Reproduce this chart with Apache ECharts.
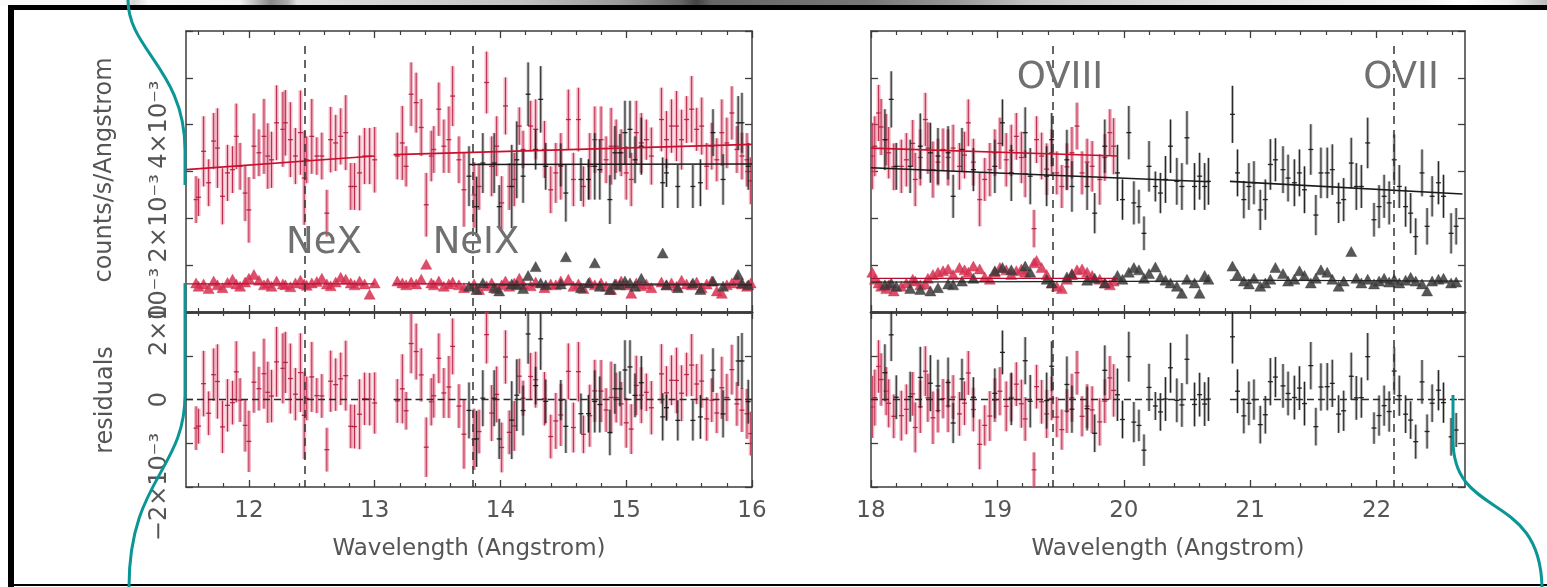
<!DOCTYPE html>
<html><head><meta charset="utf-8">
<script src="https://cdn.jsdelivr.net/npm/echarts@6/dist/echarts.min.js"></script>
<style>html,body{margin:0;padding:0;background:#fff;}#c{width:1547px;height:587px;}</style>
</head><body><div id="c"></div>
<script>
// ---------------- DATA (count rates in units of 1e-3 counts/s/Angstrom) ----------------
const leftRedX = [11.58,11.60,11.64,11.68,11.72,11.75,11.79,11.83,11.87,11.90,
11.93,11.97,12.00,12.04,12.08,12.12,12.15,12.18,12.22,12.27,
12.29,12.33,12.37,12.41,12.44,12.46,12.50,12.54,12.58,12.62,
12.65,12.69,12.73,12.77,12.81,12.84,12.88,12.92,12.96,13.00,
13.18,13.22,13.25,13.29,13.33,13.37,13.41,13.45,13.47,13.51,
13.55,13.59,13.62,13.67,13.71,13.79,13.83,13.89,13.93,13.97,
14.01,14.04,14.07,14.11,14.15,14.18,14.24,14.28,14.35,14.40,
14.44,14.48,14.54,14.58,14.62,14.66,14.71,14.75,14.80,14.84,
14.88,14.92,14.96,15.00,15.04,15.08,15.12,15.16,15.20,15.28,
15.32,15.36,15.40,15.44,15.48,15.52,15.56,15.60,15.64,15.68,
15.72,15.76,15.80,15.84,15.88,15.92,15.96,15.99];
const leftRedY = [2.40,2.45,3.43,2.76,3.65,3.50,2.47,2.97,3.04,3.75,
3.11,2.54,2.18,3.54,3.40,3.75,3.33,3.25,4.04,3.90,
4.04,3.68,3.33,3.83,2.86,3.25,3.75,3.33,3.33,2.11,
3.68,3.61,3.75,3.83,2.68,2.68,2.97,3.33,3.33,3.25,
3.33,3.61,3.11,4.65,4.47,3.94,2.29,3.33,3.47,4.33,
3.54,3.68,4.61,3.25,2.61,2.50,2.68,4.90,3.11,3.54,
2.33,4.40,2.68,2.83,3.97,3.47,3.97,3.90,3.47,2.61,
2.97,3.11,4.11,2.83,4.11,2.68,3.11,3.68,3.68,3.25,
3.54,3.54,3.40,2.97,2.83,3.83,3.61,3.68,3.33,4.11,
3.68,3.97,3.97,3.68,4.11,4.33,3.90,3.97,3.11,3.54,
3.25,3.83,3.61,4.25,3.47,3.33,3.25,2.80];
const leftRedErr = [0.50,0.40,0.75,0.50,0.60,0.85,0.60,0.60,0.50,0.70,
0.50,0.60,0.70,0.70,0.50,0.80,0.70,0.60,0.80,0.80,
0.70,0.80,0.60,0.90,1.00,0.50,0.80,0.40,0.50,0.50,
0.70,0.60,0.60,0.80,0.50,0.50,0.80,0.60,0.60,0.70,
0.50,0.79,0.43,0.68,0.64,0.61,0.68,0.54,0.50,0.57,
0.57,0.71,0.64,0.50,0.79,0.70,0.50,0.66,0.64,0.64,
0.57,0.61,0.50,0.57,0.40,0.40,0.54,0.64,0.61,0.50,
0.64,0.71,0.64,0.57,0.68,0.43,0.71,0.71,0.71,0.50,
0.82,0.57,0.50,0.57,0.57,0.68,0.64,0.43,0.61,0.68,
0.61,0.57,0.75,0.64,0.50,0.71,0.46,0.61,0.50,0.50,
0.46,0.71,0.54,0.57,0.50,0.50,0.57,0.50];
const leftRedBg = [0.62,0.55,0.60,0.50,0.66,0.58,0.52,0.63,0.70,0.60,
0.55,0.64,0.72,0.80,0.68,0.58,0.62,0.55,0.66,0.60,
0.58,0.54,0.62,0.68,0.60,0.57,0.62,0.65,0.72,0.60,
0.56,0.64,0.74,0.70,0.62,0.58,0.66,0.60,0.38,0.62,
0.66,0.62,0.58,0.64,0.60,0.70,1.02,0.62,0.58,0.66,
0.55,0.60,0.64,0.58,0.52,0.60,0.48,0.56,0.62,0.50,
0.58,0.66,0.55,0.62,0.72,0.60,0.56,0.64,0.52,0.60,
0.58,0.66,0.70,0.55,0.60,0.50,0.64,0.58,0.62,0.55,
0.48,0.60,0.66,0.58,0.40,0.62,0.56,0.60,0.52,0.64,
0.58,0.62,0.55,0.68,0.60,0.58,0.64,0.52,0.60,0.66,
0.45,0.40,0.58,0.62,0.70,0.60,0.55,0.62];

const leftBlackX = [13.75,13.81,13.86,13.95,13.99,14.09,14.13,14.18,14.22,14.28,
14.32,14.36,14.48,14.52,14.64,14.70,14.75,14.79,14.87,14.91,
14.95,14.99,15.03,15.07,15.12,15.29,15.32,15.41,15.53,15.59,
15.69,15.77,15.89,15.92,15.97];
const leftBlackY = [2.90,2.25,3.18,3.18,2.25,2.68,3.25,2.90,4.65,3.47,
4.54,3.11,3.14,2.54,2.83,2.83,3.11,3.04,2.40,3.40,
3.40,3.83,3.90,3.25,3.54,2.76,2.97,2.68,2.68,2.76,
3.83,2.83,4.04,4.04,3.11];
const leftBlackErr = [0.64,0.64,0.64,0.64,0.46,0.89,0.82,0.57,0.68,0.43,
0.71,0.50,0.46,0.61,0.46,0.43,0.71,0.64,0.52,0.57,
0.40,0.68,0.61,0.50,0.61,0.54,0.30,0.46,0.46,0.50,
0.50,0.54,0.57,0.64,0.50];
const leftBlackBg = [0.55,0.48,0.62,0.52,0.45,0.60,0.58,0.50,0.78,0.97,
0.62,0.58,0.60,1.18,0.52,0.62,1.05,0.55,0.48,0.60,
0.58,0.66,0.62,0.55,0.72,1.26,0.58,0.52,0.62,0.48,
0.66,0.55,0.80,0.62,0.58];

const rightRedX = [18.01,18.03,18.06,18.08,18.12,18.14,18.18,18.24,18.28,18.33,
18.35,18.39,18.43,18.45,18.49,18.53,18.57,18.61,18.65,18.70,
18.74,18.77,18.81,18.86,18.90,18.94,18.98,19.02,19.07,19.11,
19.15,19.19,19.22,19.29,19.31,19.35,19.39,19.43,19.47,19.51,
19.55,19.59,19.63,19.67,19.71,19.75,19.81,19.85,19.89,19.92];
const rightRedY = [3.33,3.54,4.25,3.95,3.68,3.40,3.10,3.11,3.25,3.60,
2.83,3.30,4.11,3.50,3.04,3.20,3.47,3.30,3.50,3.11,
3.35,4.04,3.20,2.40,2.83,3.04,3.40,3.60,3.25,3.45,
3.75,3.30,2.95,1.78,3.68,3.33,3.05,3.40,2.97,2.68,
3.10,3.40,3.97,2.97,3.20,3.11,2.83,3.30,3.83,3.54];
const rightRedErr = [0.71,0.64,0.60,0.60,0.55,0.55,0.50,0.57,0.57,0.50,
0.57,0.60,0.57,0.55,0.60,0.50,0.45,0.60,0.50,0.50,
0.50,0.50,0.50,0.57,0.46,0.57,0.50,0.55,0.57,0.55,
0.50,0.55,0.50,0.40,0.50,0.50,0.55,0.50,0.46,0.46,
0.50,0.55,0.50,0.46,0.50,0.54,0.54,0.50,0.50,0.60];
const rightRedBg = [0.85,0.70,0.62,0.55,0.50,0.58,0.45,0.55,0.62,0.70,
0.66,0.58,0.60,0.72,0.80,0.85,0.88,0.92,0.80,0.95,
0.90,0.85,0.98,0.92,0.75,0.70,0.85,0.95,0.90,0.80,
0.88,0.92,0.85,1.05,1.10,0.95,0.80,0.62,0.55,0.50,
0.70,0.82,0.90,0.92,0.85,0.78,0.70,0.62,0.58,0.66];

const rightBlackX = [18.11,18.16,18.20,18.31,18.39,18.47,18.53,18.61,18.65,18.72,
18.81,18.98,19.04,19.11,19.22,19.26,19.39,19.43,19.55,19.59,
19.71,19.77,19.85,19.95,19.99,20.04,20.08,20.12,20.16,20.20,
20.25,20.29,20.33,20.37,20.42,20.46,20.50,20.56,20.60,20.64,
20.67,20.86,20.90,20.95,20.99,21.03,21.08,21.12,21.16,21.20,
21.26,21.30,21.35,21.39,21.43,21.48,21.52,21.56,21.61,21.65,
21.70,21.74,21.80,21.84,21.88,21.93,21.98,22.02,22.06,22.10,
22.14,22.18,22.23,22.27,22.31,22.36,22.40,22.44,22.49,22.53,
22.59,22.63];
const rightBlackY = [3.68,4.54,3.11,3.11,3.54,3.40,3.33,3.40,2.47,3.47,
3.04,3.11,4.04,2.97,3.83,2.90,2.90,3.68,3.25,2.68,
2.68,2.11,3.54,2.97,2.40,3.83,2.33,2.25,1.68,3.11,
2.68,2.54,2.83,3.54,2.79,2.68,3.72,2.68,2.90,2.68,
2.79,4.22,2.97,2.40,2.68,2.76,2.18,2.40,3.15,3.25,
3.04,2.86,2.76,2.97,2.61,3.47,2.07,2.97,2.97,3.04,
2.33,2.40,3.18,2.68,2.68,3.61,1.97,2.25,2.47,2.33,
3.25,2.68,2.25,2.11,1.61,2.97,1.83,2.47,2.76,2.47,
1.68,1.83];
const rightBlackErr = [0.65,0.60,0.50,0.57,0.70,0.64,0.60,0.57,0.46,0.46,
0.46,0.57,0.50,0.60,0.54,0.60,0.64,0.57,0.64,0.54,
0.50,0.43,0.57,0.60,0.43,0.57,0.46,0.36,0.36,0.54,
0.32,0.43,0.50,0.57,0.50,0.50,0.57,0.50,0.50,0.50,
0.50,0.61,0.50,0.40,0.50,0.46,0.43,0.43,0.54,0.46,
0.50,0.50,0.50,0.50,0.50,0.54,0.43,0.54,0.54,0.54,
0.43,0.46,0.54,0.50,0.46,0.54,0.36,0.46,0.46,0.46,
0.54,0.46,0.43,0.43,0.39,0.50,0.39,0.43,0.46,0.46,
0.43,0.39];
const rightBlackBg = [0.58,0.62,0.55,0.50,0.48,0.45,0.52,0.60,0.58,0.66,
0.72,0.88,0.95,0.90,0.98,0.85,0.70,0.62,0.75,0.80,
0.68,0.72,0.62,0.78,0.70,0.85,0.95,0.90,0.72,0.82,
0.96,0.75,0.68,0.62,0.55,0.40,0.70,0.62,0.40,0.78,
0.70,0.98,0.80,0.66,0.60,0.72,0.55,0.62,0.70,0.95,
0.82,0.66,0.70,0.88,0.78,0.62,0.72,0.90,0.85,0.70,
0.55,0.66,1.29,0.72,0.62,0.70,0.60,0.66,0.72,0.64,
0.70,0.62,0.68,0.74,0.66,0.60,0.45,0.66,0.70,0.72,
0.62,0.64];

// model continua: segments of [wavelength, rate]
const leftRedModel = [[[11.5,3.04],[13.0,3.33]], [[13.15,3.36],[16.0,3.58]]];
const leftBlackModel = [[[13.75,3.15],[16.0,3.16]]];
const rightRedModel = [[[18.0,3.50],[19.95,3.33]]];
const rightBlackModel = [[[18.0,3.08],[20.68,2.78]], [[20.84,2.79],[22.68,2.52]]];
const leftRedBgModel = [[[11.5,0.60],[13.0,0.60]], [[13.15,0.60],[16.0,0.60]]];
const leftBlackBgModel = [[[13.75,0.58],[16.0,0.58]]];
const rightRedBgModel = [[[18.0,0.72],[19.95,0.72]]];
const rightBlackBgModel = [[[18.0,0.64],[20.68,0.66]], [[20.84,0.68],[22.68,0.66]]];

// line identifications
const leftLines = [12.445, 13.78];
const rightLines = [19.44, 22.135];
const lineLabels = ['NeX', 'NeIX', 'OVIII', 'OVII'];

// axis ticks
const leftMajor = [12,13,14,15,16];
const leftMinor = [11.6,11.8,12.2,12.4,12.6,12.8,13.2,13.4,13.6,13.8,14.2,14.4,14.6,14.8,15.2,15.4,15.6,15.8];
const rightMajor = [18,19,20,21,22];
const rightMinor = [18.2,18.4,18.6,18.8,19.2,19.4,19.6,19.8,20.2,20.4,20.6,20.8,21.2,21.4,21.6,21.8,22.2,22.4,22.6];

// ---------------- CHART ----------------
const FONT = 'DejaVu Sans';
const TXT = '#555';
const AX = '#3c3c3c';

function modelAt(segs, x) {
  let best = null, bd = 1e9;
  for (const s of segs) {
    const a = s[0], b = s[s.length - 1];
    let d = 0;
    if (x < a[0]) d = a[0] - x; else if (x > b[0]) d = x - b[0];
    if (d < bd) { bd = d; best = s; }
  }
  const a = best[0], b = best[best.length - 1];
  const t = Math.max(0, Math.min(1, (x - a[0]) / (b[0] - a[0])));
  return a[1] + t * (b[1] - a[1]);
}

const RED = {wide: 'rgba(228,100,130,0.48)', thin: 'rgba(175,20,55,0.85)', w: 4};
const BLK = {wide: 'rgba(70,70,70,0.40)', thin: 'rgba(20,20,20,0.90)', w: 3};

function errSeries(xs, ys, es, g, col, model) {
  const data = xs.map((x, i) => [x, model ? ys[i] - modelAt(model, x) : ys[i], es[i]]);
  return {
    type: 'custom', xAxisIndex: g * 4, yAxisIndex: g * 2, clip: true, silent: true, z: 3,
    data: data,
    renderItem: function (params, api) {
      const x = api.value(0), y = api.value(1), e = api.value(2);
      const lo = api.coord([x, y - e]), hi = api.coord([x, y + e]), c = api.coord([x, y]);
      return {type: 'group', children: [
        {type: 'line', shape: {x1: lo[0], y1: lo[1], x2: hi[0], y2: hi[1]}, style: {stroke: col.wide, lineWidth: col.w}},
        {type: 'line', shape: {x1: lo[0], y1: lo[1], x2: hi[0], y2: hi[1]}, style: {stroke: col.thin, lineWidth: 1}},
        {type: 'line', shape: {x1: c[0] - 2.5, y1: c[1], x2: c[0] + 2.5, y2: c[1]}, style: {stroke: col.thin, lineWidth: 1.3}}
      ]};
    }
  };
}
function modelSeries(segs, g, color, width, dashed) {
  return segs.map(s => ({
    type: 'line', xAxisIndex: g * 4, yAxisIndex: g * 2, data: s, symbol: 'none', silent: true, z: 4,
    lineStyle: {color: color, width: width, type: dashed ? [7, 4] : 'solid'}
  }));
}
function bgSeries(xs, vals, g, color) {
  return {
    type: 'scatter', xAxisIndex: g * 4, yAxisIndex: g * 2, symbol: 'triangle', symbolSize: [11, 10],
    silent: true, z: 3, data: xs.map((x, i) => [x, vals[i]]),
    itemStyle: {color: color, opacity: 0.85, borderColor: color, borderWidth: 0.5}
  };
}
function markSeries(g, xs, ytop, ybot) {
  return {
    type: 'line', xAxisIndex: g * 4, yAxisIndex: g * 2, data: [], silent: true, z: 5,
    markLine: {
      silent: true, symbol: ['none', 'none'], label: {show: false},
      lineStyle: {type: [8, 6], color: '#333', width: 1.5},
      data: xs.map(x => [{coord: [x, ytop]}, {coord: [x, ybot]}])
    }
  };
}

const grids = [
  {left: 186, top: 31, width: 566, height: 281},
  {left: 186, top: 312, width: 566, height: 175},
  {left: 871, top: 31, width: 594, height: 281},
  {left: 871, top: 312, width: 594, height: 175}
];
const xRange = [[11.5, 16], [11.5, 16], [18, 22.7], [18, 22.7]];
const yRange = [[0, 6], [-2, 2], [0, 6], [-2, 2]];

const xAxes = [], yAxes = [];
for (let g = 0; g < 4; g++) {
  const major = g < 2 ? leftMajor : rightMajor;
  const minor = g < 2 ? leftMinor : rightMinor;
  const isLower = g % 2 === 1;
  const base = {type: 'value', gridIndex: g, min: xRange[g][0], max: xRange[g][1], splitLine: {show: false}};
  xAxes.push(Object.assign({}, base, {
    position: 'bottom',
    axisLine: {show: true, onZero: false, lineStyle: {color: AX, width: isLower ? 1.5 : 2.5}},
    axisTick: {show: true, inside: true, length: 7, customValues: major, lineStyle: {color: AX, width: 1.3}},
    axisLabel: {show: isLower, customValues: major, margin: 13, color: TXT, fontSize: 23, fontFamily: FONT}
  }));
  xAxes.push(Object.assign({}, base, {
    position: 'bottom', axisLine: {show: false, onZero: false},
    axisTick: {show: true, inside: true, length: 4, customValues: minor, lineStyle: {color: AX, width: 1.2}},
    axisLabel: {show: false}
  }));
  xAxes.push(Object.assign({}, base, {
    position: 'top',
    axisLine: {show: true, onZero: false, lineStyle: {color: AX, width: isLower ? 2.5 : 1.5}},
    axisTick: {show: true, inside: true, length: 7, customValues: major, lineStyle: {color: AX, width: 1.3}},
    axisLabel: {show: false}
  }));
  xAxes.push(Object.assign({}, base, {
    position: 'top', axisLine: {show: false, onZero: false},
    axisTick: {show: true, inside: true, length: 4, customValues: minor, lineStyle: {color: AX, width: 1.2}},
    axisLabel: {show: false}
  }));
  const ybase = {type: 'value', gridIndex: g, min: yRange[g][0], max: yRange[g][1], interval: 1, splitLine: {show: false}};
  yAxes.push(Object.assign({}, ybase, {
    position: 'left',
    axisLine: {show: true, onZero: false, lineStyle: {color: AX, width: 1.5}},
    axisTick: {show: true, inside: true, length: 7, lineStyle: {color: AX, width: 1.3}},
    axisLabel: {
      show: g < 2, rotate: 90, margin: 14, color: TXT, fontSize: 24, fontFamily: FONT,
      showMaxLabel: true, showMinLabel: true,
      formatter: function (v) {
        if (v === 0) return '0';
        if (Math.abs(v) === 2 || (v === 4 && !isLower)) return (v < 0 ? '\u2212' : '') + Math.abs(v) + '\u00d710\u207b\u00b3';
        return '';
      }
    }
  }));
  yAxes.push(Object.assign({}, ybase, {
    position: 'right',
    axisLine: {show: true, onZero: false, lineStyle: {color: AX, width: 1.5}},
    axisTick: {show: true, inside: true, length: 7, lineStyle: {color: AX, width: 1.3}},
    axisLabel: {show: false}
  }));
}

const series = [].concat(
  // left upper (grid 0)
  bgSeries(leftRedX, leftRedBg, 0, '#d62f50'),
  bgSeries(leftBlackX, leftBlackBg, 0, '#3a3a3a'),
  modelSeries(leftRedBgModel, 0, '#b01030', 1.2),
  modelSeries(leftBlackBgModel, 0, '#222', 1.2),
  errSeries(leftRedX, leftRedY, leftRedErr, 0, RED),
  errSeries(leftBlackX, leftBlackY, leftBlackErr, 0, BLK),
  modelSeries(leftRedModel, 0, '#c8102e', 1.6),
  modelSeries(leftBlackModel, 0, '#1a1a1a', 1.6),
  markSeries(0, leftLines, 5.68, 0),
  // left lower (grid 1)
  errSeries(leftRedX, leftRedY, leftRedErr, 1, RED, leftRedModel),
  errSeries(leftBlackX, leftBlackY, leftBlackErr, 1, BLK, leftBlackModel),
  modelSeries([[[11.5, 0], [13.0, 0]], [[13.15, 0], [16.0, 0]]], 1, '#2a2a2a', 1.3, true),
  markSeries(1, leftLines, 2, -2),
  // right upper (grid 2)
  bgSeries(rightRedX, rightRedBg, 2, '#d62f50'),
  bgSeries(rightBlackX, rightBlackBg, 2, '#3a3a3a'),
  modelSeries(rightRedBgModel, 2, '#b01030', 1.2),
  modelSeries(rightBlackBgModel, 2, '#222', 1.2),
  errSeries(rightRedX, rightRedY, rightRedErr, 2, RED),
  errSeries(rightBlackX, rightBlackY, rightBlackErr, 2, BLK),
  modelSeries(rightRedModel, 2, '#c8102e', 1.6),
  modelSeries(rightBlackModel, 2, '#1a1a1a', 1.6),
  markSeries(2, rightLines, 5.68, 0),
  // right lower (grid 3)
  errSeries(rightRedX, rightRedY, rightRedErr, 3, RED, rightRedModel),
  errSeries(rightBlackX, rightBlackY, rightBlackErr, 3, BLK, rightBlackModel),
  modelSeries([[[18.0, 0], [20.68, 0]], [[20.84, 0], [22.68, 0]]], 3, '#2a2a2a', 1.3, true),
  markSeries(3, rightLines, 2, -2)
);

const TEAL = '#0a9696';
function txt(text, x, y, size, color, rot) {
  return {type: 'text', x: x, y: y, rotation: rot || 0, z: 50, silent: true,
    style: {text: text, fill: color, fontSize: size, fontFamily: FONT, align: 'center', verticalAlign: 'middle'}};
}
const graphic = [
  {type: 'rect', z: 1, silent: true, shape: {x: 0, y: 0, width: 1547, height: 6},
   style: {fill: {type: 'linear', x: 0, y: 0, x2: 1, y2: 0, colorStops: [
     {offset: 0, color: '#fafafa'}, {offset: 0.08, color: '#fafafa'}, {offset: 0.086, color: '#d4d4d4'},
     {offset: 0.096, color: '#f8f8f8'}, {offset: 0.155, color: '#f2f2f2'}, {offset: 0.175, color: '#888'},
     {offset: 0.186, color: '#aaa'}, {offset: 0.192, color: '#e0e0e0'}, {offset: 0.336, color: '#c2c2c2'},
     {offset: 0.40, color: '#9a9a9a'}, {offset: 0.44, color: '#666'}, {offset: 0.45, color: '#444'},
     {offset: 0.46, color: '#666'}, {offset: 0.56, color: '#777'}, {offset: 0.62, color: '#9a9a9a'},
     {offset: 0.665, color: '#c2c2c2'}, {offset: 0.72, color: '#d2d2d2'}, {offset: 0.80, color: '#e2e2e2'},
     {offset: 0.92, color: '#f4f4f4'}, {offset: 0.945, color: '#fff'}, {offset: 0.975, color: '#eee'},
     {offset: 1, color: '#bbb'}]}}},
  {type: 'rect', z: 2, silent: true, shape: {x: 8, y: 5, width: 1539, height: 5}, style: {fill: '#000'}},
  {type: 'rect', z: 2, silent: true, shape: {x: 8, y: 5, width: 6, height: 582}, style: {fill: '#000'}},
  {type: 'rect', z: 2, silent: true, shape: {x: 8, y: 584, width: 1539, height: 2}, style: {fill: '#000'}},
  txt('counts/s/Angstrom', 105, 170, 24, TXT, Math.PI / 2),
  txt('residuals', 106, 400, 24, TXT, Math.PI / 2),
  txt('Wavelength (Angstrom)', 469, 549, 23, TXT),
  txt('Wavelength (Angstrom)', 1168, 549, 23, TXT),
  txt(lineLabels[0], 324, 243, 37, '#707070'),
  txt(lineLabels[1], 476, 243, 37, '#707070'),
  txt(lineLabels[2], 1060, 78, 37, '#707070'),
  txt(lineLabels[3], 1401, 78, 37, '#707070'),
  {type: 'bezierCurve', z: 100, silent: true, shape: {x1: 128, y1: 0, cpx1: 128, cpy1: 50, cpx2: 185, cpy2: 70, x2: 185, y2: 150},
   style: {stroke: TEAL, lineWidth: 3, fill: 'none'}},
  {type: 'line', z: 100, silent: true, shape: {x1: 185, y1: 150, x2: 185, y2: 185}, style: {stroke: TEAL, lineWidth: 3}},
  {type: 'line', z: 100, silent: true, shape: {x1: 185, y1: 283, x2: 185, y2: 395}, style: {stroke: TEAL, lineWidth: 3}},
  {type: 'bezierCurve', z: 100, silent: true, shape: {x1: 185, y1: 395, cpx1: 185, cpy1: 470, cpx2: 129, cpy2: 480, x2: 129, y2: 587},
   style: {stroke: TEAL, lineWidth: 3, fill: 'none'}},
  {type: 'line', z: 100, silent: true, shape: {x1: 1453, y1: 395, x2: 1453, y2: 440}, style: {stroke: TEAL, lineWidth: 3}},
  {type: 'bezierCurve', z: 100, silent: true, shape: {x1: 1453, y1: 440, cpx1: 1453, cpy1: 520, cpx2: 1540, cpy2: 490, x2: 1542, y2: 587},
   style: {stroke: TEAL, lineWidth: 3, fill: 'none'}}
];

const chart = echarts.init(document.getElementById('c'), null, {renderer: 'canvas'});
chart.setOption({
  animation: false,
  backgroundColor: '#fff',
  grid: grids,
  xAxis: xAxes,
  yAxis: yAxes,
  series: series,
  graphic: graphic
});
</script></body></html>
